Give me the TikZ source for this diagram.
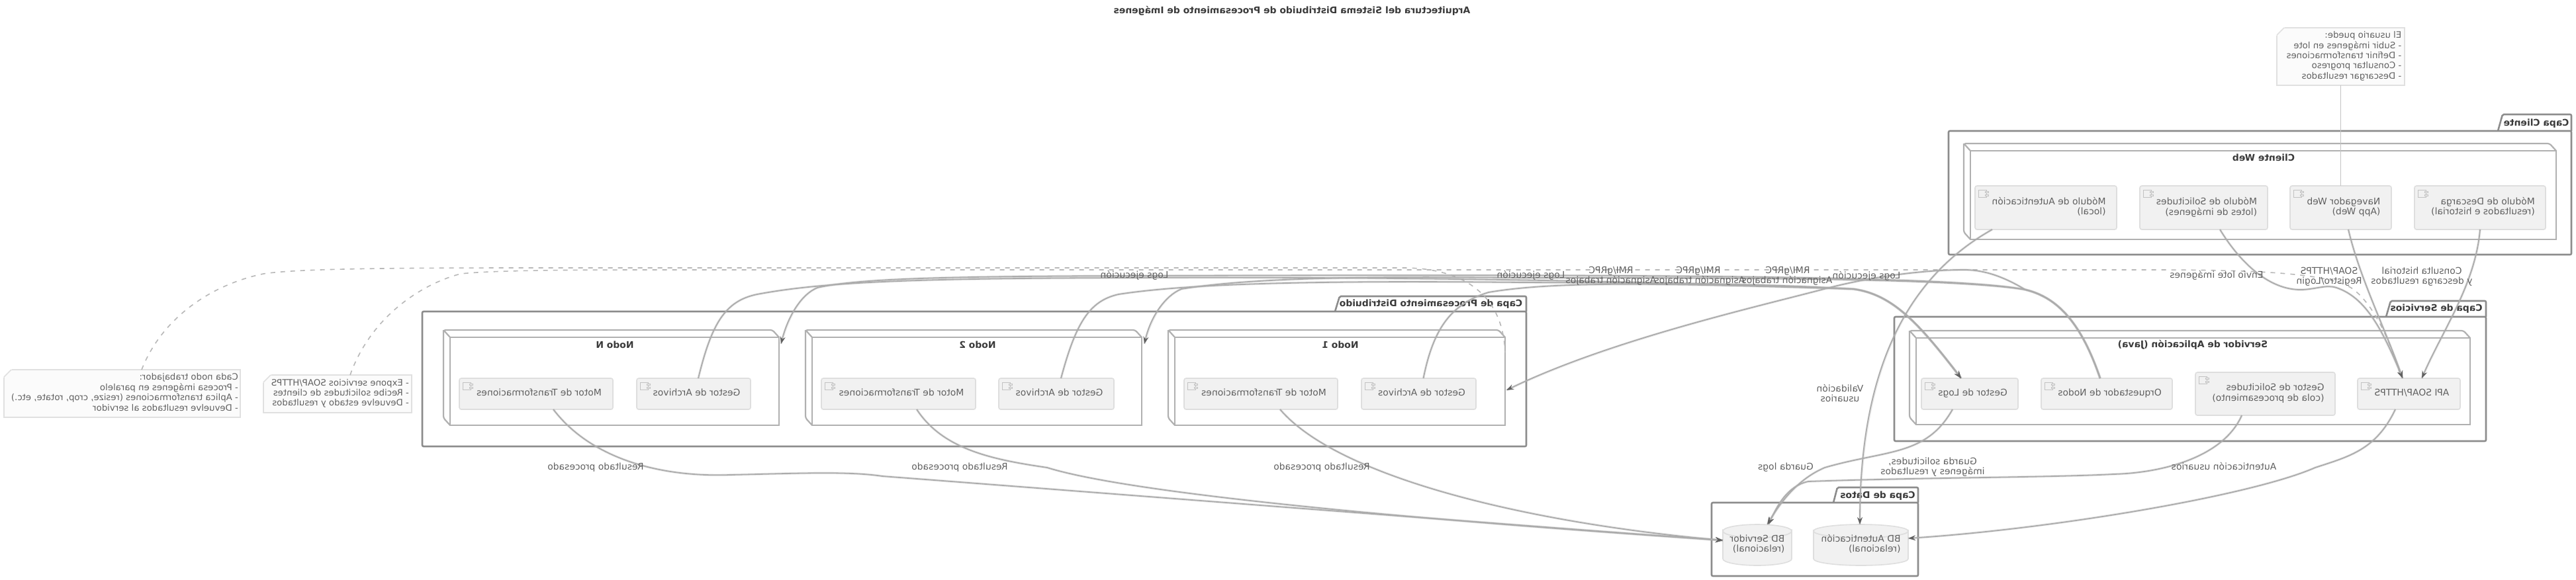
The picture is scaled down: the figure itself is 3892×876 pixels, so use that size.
\documentclass[tikz,border=0pt]{standalone}
\usepackage{fontspec}
\setmainfont{DejaVu Sans}
\usetikzlibrary{arrows.meta}
\definecolor{pkgc}{HTML}{8C8C8C}
\definecolor{cubec}{HTML}{B0B0B0}
\definecolor{linec}{HTML}{ABABAB}
\definecolor{txtc}{HTML}{606060}
\definecolor{boldc}{HTML}{3A3A3A}
\definecolor{compf}{HTML}{F1F1F1}
\definecolor{compd}{HTML}{DEDEDE}
\definecolor{notef}{HTML}{FBFBFB}
\definecolor{noted}{HTML}{E0E0E0}
\newcommand\mtx[2][l]{\reflectbox{\begin{tabular}{@{}#1@{}}#2\end{tabular}}}
\newcommand\cmptext[1]{\raisebox{-5.5pt}{\kern9pt\mtx{#1}}}
\newcommand\rnode[6]{%
  \pgfmathsetmacro\cxx{(#3+#5)/2}\pgfmathsetmacro\cyy{(#4+#6)/2}%
  \pgfmathsetmacro\www{#5-#3}\pgfmathsetmacro\hhh{#6-#4}%
  \node[#2,minimum width=\www pt,minimum height=\hhh pt] (#1) at (\cxx,\cyy)}
\newcommand\cubefaces[1]{%
  \draw[cubeline] (#1.north west) -- ++(-10,-11) -- ([shift={(-10,-11)}]#1.north east) -- (#1.north east);
  \draw[cubeline] ([shift={(-10,-11)}]#1.north west) -- ([shift={(-10,-11)}]#1.south west) -- (#1.south west);}
\newcommand\cicon[1]{%
  \draw[iconline] ([shift={(5,6)}]#1.north west) rectangle ([shift={(17,17)}]#1.north west);
  \draw[iconline] ([shift={(15,8)}]#1.north west) rectangle ([shift={(20,10)}]#1.north west);
  \draw[iconline] ([shift={(15,13)}]#1.north west) rectangle ([shift={(20,15)}]#1.north west);}
\newcommand\notefold[1]{%
  \fill[white] ([shift={(-1,-1)}]#1.north west) -- ([shift={(12,-1)}]#1.north west) -- ([shift={(-1,12)}]#1.north west) -- cycle;
  \draw[noteline] ([shift={(11,0)}]#1.north west) -- ([shift={(0,11)}]#1.north west);}
\tikzset{
  txt/.style={font=\fontsize{13.9}{15.5}\selectfont,text=txtc,inner sep=0pt},
  btxt/.style={font=\fontsize{13.9}{15.5}\selectfont\bfseries,text=boldc,inner sep=0pt},
  pkgbox/.style={draw=pkgc,line width=2.6pt,rounded corners=2pt,outer sep=0pt,inner sep=0pt},
  pkgline/.style={draw=pkgc,line width=2.6pt,rounded corners=2pt},
  cubebox/.style={draw=cubec,line width=2.2pt,fill=white,outer sep=0pt,inner sep=0pt},
  cubeline/.style={draw=cubec,line width=2.2pt,rounded corners=3pt},
  comp/.style={draw=compd,line width=1.6pt,fill=compf,rounded corners=3pt,outer sep=0pt,inner sep=0pt,
    font=\fontsize{13.9}{15.5}\selectfont,text=txtc},
  iconline/.style={draw=compd!70!gray,line width=1pt,fill=compf},
  notebox/.style={draw=noted,line width=1.6pt,fill=notef,outer sep=0pt,inner sep=0pt,
    font=\fontsize{13.3}{15.4}\selectfont,text=txtc},
  noteline/.style={draw=noted,line width=1.6pt},
  dbline/.style={draw=compd,line width=1.6pt,fill=compf},
  dbtxt/.style={draw=none,inner sep=0pt,outer sep=0pt,font=\fontsize{13.9}{15.5}\selectfont,text=txtc},
  conn/.style={draw=linec,line width=1.8pt,preaction={draw=linec,line width=3.6pt,draw opacity=.25,arrows=-}},
  arr/.style={conn,-{Stealth[length=11pt,width=8pt,color=black!62]}},
  notelink/.style={draw=linec!85,line width=1.6pt,dash pattern=on 7pt off 8pt},
  notesolid/.style={draw=linec!70,line width=1.6pt},
}
\begin{document}
\begin{tikzpicture}[x=1pt,y=-1pt]
\useasboundingbox (0,0) rectangle (3892,876);
\fill[white] (0,0) rectangle (3892,876);
\node[btxt] (title) at (1952,17) {\mtx{Arquitectura del Sistema Distribuido de Procesamiento de Imágenes}};

% Capa Cliente
\rnode{pCli}{pkgbox}{2944}{198}{3885}{385} {};
\draw[pkgline] (3774,198) -- (3781,173) -- (3885,173) -- (3885,198);
\node[btxt] (lCli) at (3832,187) {\mtx{Capa Cliente}};
\rnode{nWeb}{cubebox}{2977}{228}{3862}{362} {};
\cubefaces{nWeb}
\node[btxt] (tWeb) at (3420,240) {\mtx{Cliente Web}};
\rnode{cAuth}{comp}{2984}{281}{3198}{347} {\cmptext{Módulo de Autenticación\\(local)}}; \cicon{cAuth}
\rnode{cSol}{comp}{3233}{281}{3426}{347} {\cmptext{Módulo de Solicitudes\\(lotes de imágenes)}}; \cicon{cSol}
\rnode{cNav}{comp}{3460}{281}{3613}{347} {\cmptext{Navegador Web\\(App Web)}}; \cicon{cNav}
\rnode{cDes}{comp}{3648}{281}{3846}{347} {\cmptext{Módulo de Descarga\\(resultados e historial)}}; \cicon{cDes}

% Capa de Servicios
\rnode{pSer}{pkgbox}{2862}{479}{3756}{667} {};
\draw[pkgline] (3605,479) -- (3612,455) -- (3756,455) -- (3756,479);
\node[btxt] (lSer) at (3681,467) {\mtx{Capa de Servicios}};
\rnode{nApp}{cubebox}{2895}{511}{3732}{642} {};
\cubefaces{nApp}
\node[btxt] (tApp) at (3313,522) {\mtx{Servidor de Aplicación (Java)}};
\rnode{cLogs}{comp}{2903}{572}{3049}{619} {\cmptext{Gestor de Logs}}; \cicon{cLogs}
\rnode{cOrq}{comp}{3084}{572}{3282}{619} {\cmptext{Orquestador de Nodos}}; \cicon{cOrq}
\rnode{cGes}{comp}{3317}{563}{3528}{628} {\cmptext{Gestor de Solicitudes\\(cola de procesamiento)}}; \cicon{cGes}
\rnode{cApi}{comp}{3562}{572}{3717}{619} {\cmptext{API SOAP/HTTPS}}; \cicon{cApi}

% Capa de Procesamiento
\rnode{pPro}{pkgbox}{638}{471}{2306}{675} {};
\draw[pkgline] (2017,471) -- (2024,448) -- (2306,448) -- (2306,471);
\node[btxt] (lPro) at (2162,460) {\mtx{Capa de Procesamiento Distribuido}};
\rnode{nN}{cubebox}{680}{510}{1177}{643} {};
\cubefaces{nN}
\node[btxt] (tN) at (929,523) {\mtx{Nodo N}};
\rnode{mN}{comp}{694}{572}{926}{619} {\cmptext{Motor de Transformaciones}}; \cicon{mN}
\rnode{gN}{comp}{962}{572}{1134}{619} {\cmptext{Gestor de Archivos}}; \cicon{gN}
\rnode{nB}{cubebox}{1227}{510}{1725}{643} {};
\cubefaces{nB}
\node[btxt] (tB) at (1477,523) {\mtx{Nodo 2}};
\rnode{mB}{comp}{1241}{572}{1474}{619} {\cmptext{Motor de Transformaciones}}; \cicon{mB}
\rnode{gB}{comp}{1509}{572}{1683}{619} {\cmptext{Gestor de Archivos}}; \cicon{gB}
\rnode{nA}{cubebox}{1775}{510}{2274}{643} {};
\cubefaces{nA}
\node[btxt] (tA) at (2025,523) {\mtx{Nodo 1}};
\rnode{mA}{comp}{1789}{572}{2021}{619} {\cmptext{Motor de Transformaciones}}; \cicon{mA}
\rnode{gA}{comp}{2057}{572}{2230}{619} {\cmptext{Gestor de Archivos}}; \cicon{gA}

% Capa de Datos
\rnode{pDat}{pkgbox}{2586}{760}{2898}{871} {};
\draw[pkgline] (2770,760) -- (2776,737) -- (2898,737) -- (2898,760);
\node[btxt] (lDat) at (2837,750) {\mtx{Capa de Datos}};
\draw[dbline] (2740,803) -- (2740,845) arc[start angle=180,end angle=360,x radius=71.5pt,y radius=10pt] -- (2883,803) arc[start angle=0,end angle=-180,x radius=71.5pt,y radius=10pt] -- cycle;
\draw[dbline] (2811.5,803) ellipse[x radius=71.5pt,y radius=10pt];
\draw[dbline] (2603,803) -- (2603,845) arc[start angle=180,end angle=360,x radius=52pt,y radius=10pt] -- (2707,803) arc[start angle=0,end angle=-180,x radius=52pt,y radius=10pt] -- cycle;
\draw[dbline] (2655,803) ellipse[x radius=52pt,y radius=10pt];
\rnode{dbA}{dbtxt}{2740}{793}{2883}{855} {\raisebox{-18pt}{\mtx{BD Autenticación\\(relacional)}}};
\rnode{dbS}{dbtxt}{2603}{793}{2707}{855} {\raisebox{-18pt}{\mtx{BD Servidor\\(relacional)}}};

% Notas
\rnode{nUsr}{notebox}{3440}{42}{3633}{129} {\kern10pt\mtx{El usuario puede:\\- Subir imágenes en lote\\- Definir transformaciones\\- Consultar progreso\\- Descargar resultados}}; \notefold{nUsr}
\rnode{nWrk}{notebox}{6}{559}{363}{631} {\kern8pt\mtx{Cada nodo trabajador:\\- Procesa imágenes en paralelo\\- Aplica transformaciones (resize, crop, rotate, etc.)\\- Devuelve resultados al servidor}}; \notefold{nWrk}
\rnode{nExp}{notebox}{398}{567}{622}{624} {\kern8pt\mtx{- Expone servicios SOAP/HTTPS\\- Recibe solicitudes de clientes\\- Devuelve estado y resultados}}; \notefold{nExp}

% Enlaces de notas
\draw[notesolid] (nUsr.south) -- (cNav.north);
\draw[notelink] ([xshift=29.5pt]nWrk.north) .. controls (245,480) and (320,430) .. (398,414) .. controls (450,406) and (600,405) .. (800,405) -- (2120,405) .. controls (2190,405) and (2270,430) .. ([yshift=-23pt]nA.north east);
\draw[notelink] ([xshift=19pt]nExp.north) .. controls (560,480) and (635,430) .. (696,414) .. controls (750,408) and (900,408) .. (1000,408) -- (3250,408) .. controls (3400,408) and (3520,412) .. (3555,437) .. controls (3585,460) and (3610,510) .. ([xshift=-11.5pt]cApi.north);

% Cliente a servicios
\draw[arr] ([xshift=24.5pt]cSol.south) .. controls (3380,390) and (3425,440) .. (3479,438) .. controls (3500,437) and (3515,430) .. (3530,435) .. controls (3575,450) and (3600,500) .. ([xshift=-9.5pt]cApi.north);
\draw[arr] ([xshift=11.5pt]cNav.south) .. controls (3565,420) and (3605,500) .. ([xshift=-9.5pt]cApi.north);
\draw[arr] (cDes.south) .. controls (3740,430) and (3690,500) .. ([xshift=19.5pt]cApi.north);
\draw[arr] ([xshift=-81pt]cAuth.south) .. controls (2880,420) and (2810,560) .. ([xshift=-1.5pt]dbA.north);

% Orquestador a nodos
\draw[arr] ([xshift=-10pt]cOrq.north) .. controls (3145,490) and (3110,450) .. (3060,438) .. controls (3030,420) and (3000,408) .. (2968,408) .. controls (2900,408) and (2820,420) .. (2756,437) .. controls (2650,465) and (2430,515) .. ([shift={(2,80)}]nA.north east);
\draw[arr] ([xshift=-10pt]cOrq.north) .. controls (3145,490) and (3110,450) .. (3060,438) .. controls (2950,420) and (2600,420) .. (2300,420) .. controls (2100,418) and (1900,418) .. (1785,437) .. controls (1760,447) and (1738,480) .. ([shift={(4,10)}]nB.north east);
\draw[arr] ([xshift=-10pt]cOrq.north) .. controls (3145,490) and (3110,450) .. (3060,438) .. controls (2950,415) and (2400,415) .. (1700,417) .. controls (1450,418) and (1300,420) .. (1235,435) .. controls (1210,445) and (1190,480) .. ([shift={(3,10)}]nN.north east);

% Gestores de archivos a logs
\draw[arr] ([xshift=7pt]gA.north) .. controls (2165,500) and (2190,460) .. (2249,442) .. controls (2350,425) and (2500,428) .. (2800,437) .. controls (2860,445) and (2900,490) .. ([xshift=-13pt]cLogs.north);
\draw[arr] ([xshift=7pt]gB.north) .. controls (1625,490) and (1645,455) .. (1690,445) .. controls (1800,428) and (2000,424) .. (2300,427) .. controls (2500,428) and (2650,428) .. (2800,437) .. controls (2860,445) and (2900,490) .. ([xshift=-13pt]cLogs.north);
\draw[arr] ([xshift=7pt]gN.north) .. controls (1075,490) and (1095,455) .. (1144,445) .. controls (1250,425) and (1400,421) .. (1700,420) .. controls (2100,418) and (2500,425) .. (2800,437) .. controls (2860,445) and (2900,490) .. ([xshift=-13pt]cLogs.north);

% Motores a BD servidor
\draw[arr] ([xshift=26pt]mN.south) .. controls (890,690) and (990,722) .. (1103,718) .. controls (1200,716) and (1280,712) .. (1333,720) .. controls (1700,748) and (2300,795) .. ([yshift=-24pt]dbS.north west);
\draw[arr] ([xshift=27.5pt]mB.south) .. controls (1425,680) and (1500,695) .. (1582,707) .. controls (1720,750) and (2200,790) .. ([yshift=-24pt]dbS.north west);
\draw[arr] ([xshift=29pt]mA.south) .. controls (2020,720) and (2300,790) .. ([yshift=-24pt]dbS.north west);

% Servicios a datos
\draw[arr] ([xshift=-20.5pt]cApi.south) .. controls (3590,680) and (3550,690) .. (3498,707) .. controls (3400,750) and (3100,800) .. ([yshift=-21pt]dbA.north east);
\draw[arr] ([xshift=-35.5pt]cGes.south) .. controls (3360,690) and (3270,715) .. (3193,717) .. controls (3100,722) and (2900,722) .. (2732,728) .. controls (2700,735) and (2685,765) .. ([xshift=17pt]dbS.north);
\draw[arr] ([xshift=-26pt]cLogs.south) .. controls (2910,690) and (2850,680) .. (2757,707) .. controls (2715,725) and (2690,760) .. ([xshift=15pt]dbS.north);

% Etiquetas
\node[txt] (e1) at (3349,417) {\mtx{Envío lote imágenes}};
\node[txt] (e2) at (3519,419) {\mtx[c]{SOAP/HTTPS\\Registro/Login}};
\node[txt] (e3) at (3659,419) {\mtx[c]{Consulta historial\\y descarga resultados}};
\node[txt] (e4) at (2780,597) {\mtx[c]{Validación\\usuarios}};
\node[txt] (e5) at (3360,707) {\mtx{Autenticación usuarios}};
\node[txt] (e6) at (2920,707) {\mtx[c]{Guarda solicitudes,\\imágenes y resultados}};
\node[txt] (e7) at (2698,707) {\mtx{Guarda logs}};
\node[txt] (r1) at (900,707) {\mtx{Resultado procesado}};
\node[txt] (r2) at (1450,707) {\mtx{Resultado procesado}};
\node[txt] (r3) at (1997,707) {\mtx{Resultado procesado}};
\node[txt] (l1) at (1714,417) {\mtx{Logs ejecución}};
\node[txt] (l2) at (2313,417) {\mtx{Logs ejecución}};
\node[txt] (l3) at (2820,418) {\mtx{Logs ejecución}};
\node[txt] (a1) at (2434,425) {\mtx{Asignación trabajos}};
\node[txt] (a2) at (2568,425) {\mtx{Asignación trabajos}};
\node[txt] (a3) at (2700,425) {\mtx{Asignación trabajos}};
\node[txt] (g1) at (2434,410) {\mtx{RMI/gRPC}};
\node[txt] (g2) at (2566,410) {\mtx{RMI/gRPC}};
\node[txt] (g3) at (2701,410) {\mtx{RMI/gRPC}};
\end{tikzpicture}
\end{document}
